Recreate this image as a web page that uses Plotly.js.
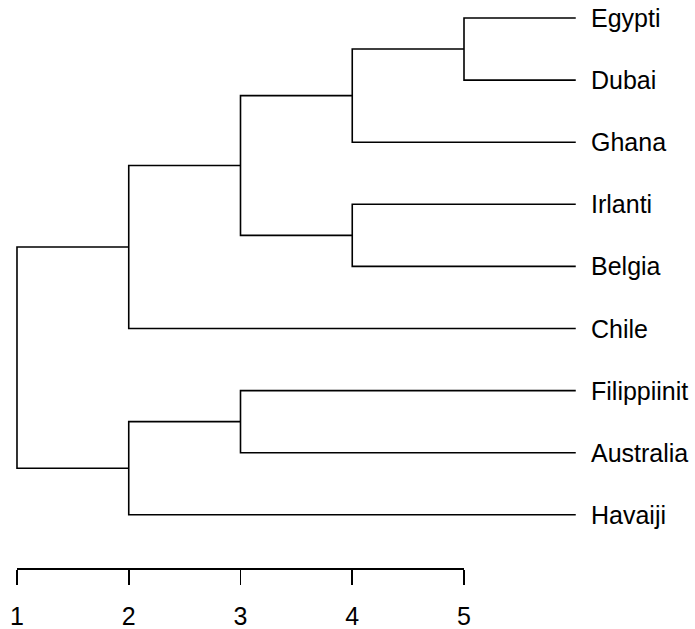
<!DOCTYPE html>
<html>
<head>
<meta charset="utf-8">
<script src="https://cdn.plot.ly/plotly-3.0.1.min.js"></script>
<style>html,body{margin:0;padding:0;background:#fff;}#chart{width:695px;height:629px;}</style>
</head>
<body>
<div id="chart"></div>
<script>
// Leaf labels, top to bottom
var leaves = ['Egypti','Dubai','Ghana','Irlanti','Belgia','Chile','Filippiinit','Australia','Havaiji'];
// Merge table (R style: negative = leaf number, positive = earlier merge)
var mergeLeft   = [-1, -4, 1, -7, 3, 5, 4, 6];
var mergeRight  = [-2, -5, -3, -8, 2, -6, -9, 7];
var mergeHeight = [5, 4, 4, 3, 3, 2, 2, 1];
var leafHeight = 6;
// Axis ticks
var tickVals = [1, 2, 3, 4, 5];
var tickText = ['1', '2', '3', '4', '5'];

var nodeY = [], nodeX = [];
function childPos(c) {
  if (c < 0) return {x: leafHeight, y: (-c) - 1};
  return {x: nodeX[c - 1], y: nodeY[c - 1]};
}
var lx = [], ly = [];
for (var i = 0; i < mergeHeight.length; i++) {
  var a = childPos(mergeLeft[i]), b = childPos(mergeRight[i]);
  var h = mergeHeight[i];
  lx.push(a.x, h, h, b.x, null);
  ly.push(a.y, a.y, b.y, b.y, null);
  nodeX.push(h);
  nodeY.push((a.y + b.y) / 2);
}

var font = 'Liberation Sans, Arial, sans-serif';
var traces = [
  {x: tickVals, y: [null, null, null, null, null], mode: 'markers', type: 'scatter', showlegend: false, hoverinfo: 'skip', xaxis: 'x2', yaxis: 'y'},
  {x: lx, y: ly, mode: 'lines', type: 'scatter', line: {color: '#000', width: 1.6}, hoverinfo: 'skip', showlegend: false, xaxis: 'x', yaxis: 'y'}
];

var annotations = leaves.map(function (name, i) {
  return {x: leafHeight, y: i, xref: 'x', yref: 'y', text: name, showarrow: false,
          xanchor: 'left', yanchor: 'middle', xshift: 13, font: {family: font, size: 25, color: '#000'}};
});

var layout = {
  width: 695, height: 629,
  margin: {l: 0, r: 0, t: 0, b: 0},
  paper_bgcolor: '#fff', plot_bgcolor: 'rgba(0,0,0,0)',
  showlegend: false,
  xaxis: {range: [0.848, 7.067], visible: false, domain: [0, 1], fixedrange: true},
  yaxis: {range: [9.839, -0.29], visible: false, fixedrange: true},
  xaxis2: {
    domain: [17 / 695, 464 / 695], range: [1, 5], anchor: 'free',
    position: 1 - 568.3 / 629, side: 'bottom',
    showline: true, linecolor: '#000', linewidth: 1.6,
    ticks: 'outside', ticklen: 15, tickwidth: 1.6, tickcolor: '#000',
    ticklabelstandoff: 10,
    tickvals: tickVals, ticktext: tickText, tickfont: {family: font, size: 25, color: '#000'},
    showgrid: false, zeroline: false, fixedrange: true
  },
  annotations: annotations
};

Plotly.newPlot('chart', traces, layout, {displayModeBar: false, staticPlot: true});
</script>
</body>
</html>
